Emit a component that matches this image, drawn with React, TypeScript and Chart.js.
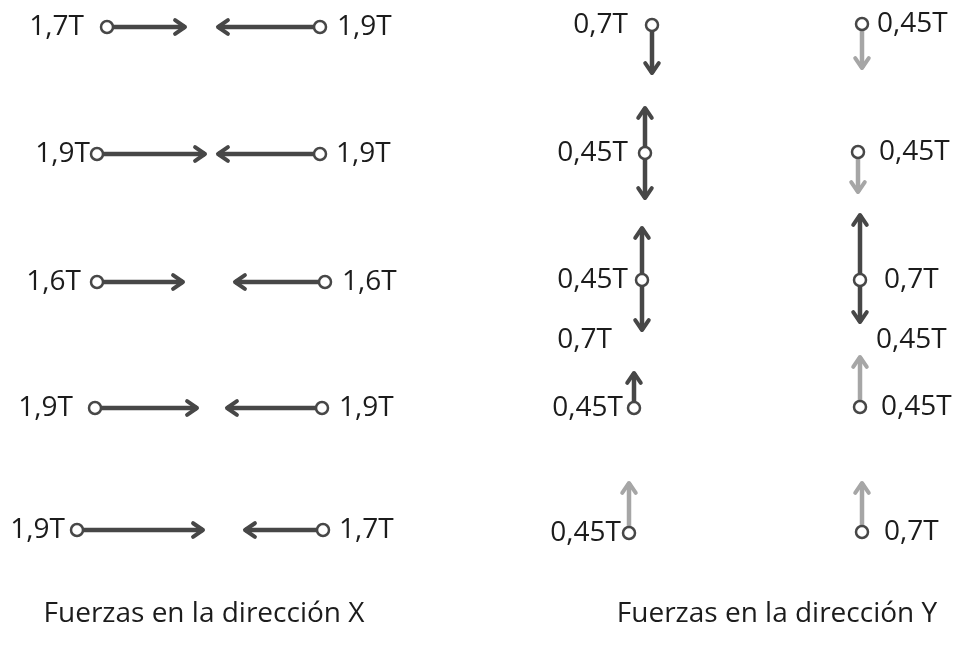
import { useEffect, useRef } from "react";
import { Chart, registerables } from "chart.js";

Chart.register(...registerables);

// ---------- Forces in the X direction (diagram units) ----------
const xRows = [27, 154, 282, 408, 530];
const xLeftNode = [107, 97, 97, 95, 77];
const xLeftTip = [185, 205, 183, 197, 203];
const xLeftForce = ["1,7T", "1,9T", "1,6T", "1,9T", "1,9T"];
const xLeftLabelX = [84, 90, 81, 73, 65];
const xRightNode = [320, 320, 325, 322, 323];
const xRightTip = [218, 218, 235, 227, 245];
const xRightForce = ["1,9T", "1,9T", "1,6T", "1,9T", "1,7T"];
const xRightLabelX = [337, 336, 342, 339, 339];

// ---------- Forces in the Y direction (diagram units) ----------
const yLeftNodeX = [652, 645, 642, 634, 629];
const yLeftNodeY = [25, 153, 280, 408, 533];
const yLeftUpTip: (number | null)[] = [null, 108, 228, 373, 483];
const yLeftDownTip: (number | null)[] = [73, 198, 330, null, null];
const yLeftForce = ["0,7T", "0,45T", "0,45T", "0,45T", "0,45T"];
const yLeftLabelX = [628, 628, 628, 623, 621];

const yRightNodeX = [862, 858, 860, 860, 862];
const yRightNodeY = [24, 152, 280, 407, 532];
const yRightUpTip: (number | null)[] = [null, null, 215, 357, 483];
const yRightDownTip: (number | null)[] = [68, 192, 322, null, null];
const yRightForce = ["0,45T", "0,45T", "0,7T", "0,45T", "0,7T"];
const yRightLabelX = [877, 879, 884, 881, 884];

const extraForce = ["0,7T", "0,45T"];
const extraX = [612, 876];
const extraY = [340, 340];
const extraAlign: CanvasTextAlign[] = ["right", "left"];

const titles = ["Fuerzas en la dirección X", "Fuerzas en la dirección Y"];
const titleX = [204, 777];
const titleY = [614, 614];

const DARK = "#474747";
const LIGHT = "#a6a6a6";
const TEXT = "#1c1c1c";
const FONT = '28px "Open Sans"';

type Arrow = { x0: number; y0: number; x1: number; y1: number; color: string };

function buildArrows(): Arrow[] {
  const arrows: Arrow[] = [];
  xRows.forEach((y, i) => {
    arrows.push({ x0: xLeftNode[i], y0: y, x1: xLeftTip[i], y1: y, color: DARK });
    arrows.push({ x0: xRightNode[i], y0: y, x1: xRightTip[i], y1: y, color: DARK });
  });
  const leftUpColors = [DARK, DARK, DARK, DARK, LIGHT];
  const leftDownColors = [DARK, DARK, DARK, DARK, DARK];
  const rightUpColors = [DARK, DARK, DARK, LIGHT, LIGHT];
  const rightDownColors = [LIGHT, LIGHT, DARK, DARK, DARK];
  yLeftNodeX.forEach((x, i) => {
    const y = yLeftNodeY[i];
    const u = yLeftUpTip[i];
    const d = yLeftDownTip[i];
    if (u !== null) arrows.push({ x0: x, y0: y, x1: x, y1: u, color: leftUpColors[i] });
    if (d !== null) arrows.push({ x0: x, y0: y, x1: x, y1: d, color: leftDownColors[i] });
  });
  yRightNodeX.forEach((x, i) => {
    const y = yRightNodeY[i];
    const u = yRightUpTip[i];
    const d = yRightDownTip[i];
    if (u !== null) arrows.push({ x0: x, y0: y, x1: x, y1: u, color: rightUpColors[i] });
    if (d !== null) arrows.push({ x0: x, y0: y, x1: x, y1: d, color: rightDownColors[i] });
  });
  return arrows;
}

export default function App() {
  const ref = useRef<HTMLCanvasElement | null>(null);

  useEffect(() => {
    if (!ref.current) return;
    const arrows = buildArrows();

    const nodes = [
      ...xRows.map((y, i) => ({ x: xLeftNode[i], y })),
      ...xRows.map((y, i) => ({ x: xRightNode[i], y })),
      ...yLeftNodeX.map((x, i) => ({ x, y: yLeftNodeY[i] })),
      ...yRightNodeX.map((x, i) => ({ x, y: yRightNodeY[i] })),
    ];

    const arrowDatasets = arrows.map((a) => ({
      type: "line" as const,
      data: [
        { x: a.x0, y: a.y0 },
        { x: a.x1, y: a.y1 },
      ],
      borderColor: a.color,
      borderWidth: 4.5,
      pointRadius: 0,
      showLine: true,
      order: 2,
    }));

    const arrowHeads = {
      id: "arrowHeads",
      afterDatasetsDraw(chart: any) {
        const ctx = chart.ctx as CanvasRenderingContext2D;
        const xs = chart.scales.x;
        const ys = chart.scales.y;
        ctx.save();
        arrows.forEach((a) => {
          const px0 = xs.getPixelForValue(a.x0);
          const py0 = ys.getPixelForValue(a.y0);
          const px1 = xs.getPixelForValue(a.x1);
          const py1 = ys.getPixelForValue(a.y1);
          const ang = Math.atan2(py1 - py0, px1 - px0);
          const len = 12;
          const spread = 0.6;
          ctx.strokeStyle = a.color;
          ctx.fillStyle = a.color;
          ctx.lineWidth = 4;
          ctx.lineCap = "round";
          ctx.lineJoin = "round";
          ctx.beginPath();
          ctx.moveTo(px1 - len * Math.cos(ang - spread), py1 - len * Math.sin(ang - spread));
          ctx.lineTo(px1, py1);
          ctx.lineTo(px1 - len * Math.cos(ang + spread), py1 - len * Math.sin(ang + spread));
          ctx.stroke();
        });
        ctx.restore();
      },
    };

    const labels = {
      id: "labels",
      afterDraw(chart: any) {
        const ctx = chart.ctx as CanvasRenderingContext2D;
        const xs = chart.scales.x;
        const ys = chart.scales.y;
        ctx.save();
        ctx.fillStyle = TEXT;
        ctx.font = FONT;
        ctx.textBaseline = "middle";
        const put = (t: string, x: number, y: number, align: CanvasTextAlign) => {
          ctx.textAlign = align;
          ctx.fillText(t, xs.getPixelForValue(x), ys.getPixelForValue(y));
        };
        xRows.forEach((y, i) => {
          put(xLeftForce[i], xLeftLabelX[i], y, "right");
          put(xRightForce[i], xRightLabelX[i], y, "left");
        });
        yLeftNodeY.forEach((y, i) => put(yLeftForce[i], yLeftLabelX[i], y, "right"));
        yRightNodeY.forEach((y, i) => put(yRightForce[i], yRightLabelX[i], y, "left"));
        extraForce.forEach((t, i) => put(t, extraX[i], extraY[i], extraAlign[i]));
        titles.forEach((t, i) => put(t, titleX[i], titleY[i], "center"));
        ctx.restore();
      },
    };

    const chart = new Chart(ref.current, {
      type: "scatter",
      data: {
        datasets: [
          {
            data: nodes,
            pointStyle: "circle",
            pointRadius: 6,
            pointBorderWidth: 2.5,
            pointBackgroundColor: "#ffffff",
            pointBorderColor: DARK,
            order: 0,
          } as any,
          ...(arrowDatasets as any[]),
        ],
      },
      options: {
        animation: false,
        responsive: false,
        layout: { padding: 0, autoPadding: false },
        plugins: { legend: { display: false }, tooltip: { enabled: false }, title: { display: false } },
        scales: {
          x: { type: "linear", min: 0, max: 959, display: false },
          y: { type: "linear", min: 0, max: 645, reverse: true, display: false },
        },
      },
      plugins: [arrowHeads, labels],
    });
    return () => chart.destroy();
  }, []);

  return (
    <div style={{ position: "absolute", left: 0, top: 0, width: 959, height: 645, background: "#fff" }}>
      <canvas ref={ref} width={959} height={645} />
    </div>
  );
}
